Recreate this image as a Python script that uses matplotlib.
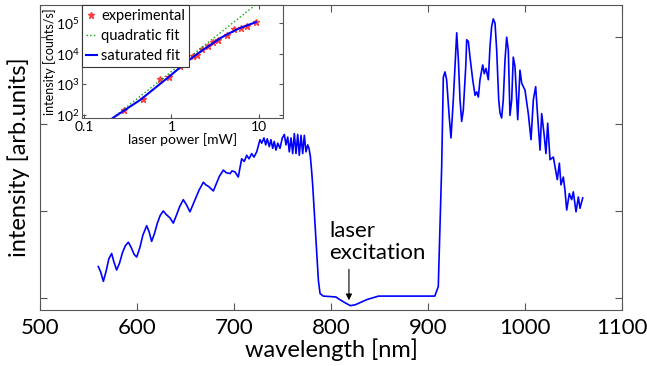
import matplotlib
matplotlib.use("Agg")
import matplotlib.pyplot as plt
from matplotlib.ticker import FixedLocator, NullLocator

plt.rcParams['font.family'] = ['Lato', 'DejaVu Sans']
plt.rcParams['mathtext.fontset'] = 'custom'
plt.rcParams['mathtext.rm'] = 'Lato'
plt.rcParams['mathtext.it'] = 'Lato:italic'

# spectrum
wavelength = [560.1, 562.5, 565.3, 568, 571, 573.9, 576, 579.0, 582, 585, 588, 591.1, 594, 597,
              599.7, 603, 606, 610.0, 612.5, 615.1, 618, 621, 624, 627.1, 630, 634, 637.4, 641,
              644, 647.7, 651, 654.6, 658, 661, 664, 668.4, 671, 674, 678.7, 682, 685, 689.0,
              692, 695.9, 698, 701.0, 704.4, 707.9, 710.6, 713.1, 715.5, 718.2, 720.6, 723.4,
              726.8, 728.6, 730.9, 732.7, 734.3, 736.4, 738.1, 739.9, 741.5, 743.3, 745.1, 747.4,
              749.8, 751.9, 753.6, 755.4, 757.0, 758.8, 760.5, 762.2, 763.9, 765.7, 767.3, 769.1,
              770.8, 772.5, 774.2, 776.0, 777.3, 778.7, 780.1, 781.1, 783.5, 785.3, 787.0, 788.7,
              792, 799, 805, 809, 815, 820, 825, 831, 837, 843, 849, 860, 871, 890, 907, 910.6,
              914.1, 915.8, 917.5, 919.2, 921.9, 923.7, 926.1, 927.8, 929.6, 931.3, 933.0, 934.7,
              936.4, 938.9, 939.9, 941.6, 943.3, 946.1, 948.5, 950.2, 951.9, 953.6, 956.4, 958.0,
              959.8, 962.2, 963.9, 965.6, 967.3, 969.1, 970.8, 972.9, 974.2, 975.9, 977.6, 979.4,
              981.1, 982.8, 984.5, 986.3, 987.9, 989.7, 992.5, 994.8, 996.6, 1000.0, 1003.4,
              1006.2, 1008.6, 1011.0, 1013.1, 1015.5, 1017.2, 1019.6, 1021.6, 1023.4, 1025.8,
              1029.2, 1030.9, 1033.3, 1035.4, 1037.1, 1039.5, 1041.2, 1043.0, 1045.7, 1048.1,
              1049.8, 1052.6, 1055.0, 1056.7, 1059.5]
intensity = [0.36, 0.30, 0.19, 0.30, 0.45, 0.51, 0.42, 0.32, 0.40, 0.52, 0.60, 0.64, 0.58, 0.50,
             0.47, 0.58, 0.72, 0.83, 0.76, 0.65, 0.74, 0.86, 0.95, 1.00, 0.96, 0.92, 0.86, 0.96,
             1.05, 1.13, 1.07, 0.99, 1.08, 1.16, 1.24, 1.33, 1.30, 1.28, 1.23, 1.32, 1.40, 1.47,
             1.44, 1.43, 1.46, 1.45, 1.39, 1.60, 1.57, 1.64, 1.60, 1.66, 1.62, 1.68,
             1.82, 1.78, 1.84, 1.76, 1.83, 1.74, 1.82, 1.72, 1.80, 1.70, 1.78, 1.72,
             1.84, 1.88, 1.76, 1.85, 1.68, 1.84, 1.66, 1.89, 1.66, 1.88, 1.64, 1.87,
             1.66, 1.87, 1.68, 1.76, 1.72, 1.63, 1.45, 1.30, 0.85, 0.51, 0.20, 0.05,
             0.02, 0.015, 0.01, -0.02, -0.06, -0.09, -0.08, -0.05, -0.02, 0.00, 0.02, 0.02, 0.02,
             0.02, 0.02, 0.13,
             1.51, 2.54, 2.60, 2.51, 2.08, 1.84, 2.28, 2.66, 3.05, 2.74, 2.28, 2.03,
             2.16, 2.66, 2.97, 2.95, 2.77, 2.51, 2.33, 2.37, 2.31, 2.51, 2.68, 2.58,
             2.64, 2.51, 2.89, 3.12, 3.21, 3.16, 2.85, 2.28, 2.13, 2.07, 2.28, 2.74,
             3.00, 2.85, 2.10, 2.28, 2.77, 2.66, 2.05, 2.62, 2.47, 2.39, 2.12,
             1.82, 2.28, 2.43, 2.08, 1.70, 2.12, 1.89, 1.66, 2.01, 1.59,
             1.62, 1.51, 1.36, 1.55, 1.30, 1.39, 1.24, 1.01, 1.20, 1.13,
             1.22, 0.99, 1.16, 1.03, 1.15]

# inset: power dependence
power = [0.29, 0.47, 0.74, 0.94, 1.25, 1.43, 1.76, 1.95, 2.23, 2.61, 2.98, 3.4, 4.3, 5.2, 6.2, 7.3, 9.2]
counts = [146, 330, 1480, 1730, 3960, 4910, 8300, 9000, 14100, 17700, 24000, 27600, 40300,
          63000, 68000, 79000, 107000]
quad_power = [0.214, 9.0]
quad_counts = [80, 3.8e5]
sat_power = [0.214, 0.44, 0.96, 1.5, 2.1, 3.6, 4.6, 6.0, 9.2]
sat_counts = [80, 310, 1870, 5500, 11200, 32000, 47000, 68000, 107000]

fig = plt.figure(figsize=(6.47, 3.66), dpi=100)
spine_col = '#555555'

ax = fig.add_axes([40 / 647, 56 / 366, 582 / 647, 305 / 366])
ax.plot(wavelength, intensity, color='#0000ff', lw=1.2)
ax.set_xlim(500, 1100)
ax.set_ylim(-0.14, 3.37)
ax.set_xticks([500, 600, 700, 800, 900, 1000, 1100])
ax.set_yticks([0, 1, 2, 3])
ax.set_yticklabels([])
ax.tick_params(direction='in', top=True, right=True, length=5, labelsize=16, pad=6,
               color=spine_col)
for s in ax.spines.values():
    s.set_color(spine_col)
    s.set_linewidth(0.8)
ax.set_xlabel('wavelength [nm]', fontsize=17, labelpad=0)
ax.set_ylabel('intensity [arb.units]', fontsize=17, labelpad=1)

ax.text(798, 0.40, 'laser\nexcitation', fontsize=16, ha='left', va='bottom', linespacing=1.1)
ax.annotate('', xy=(818.5, -0.06), xytext=(818.5, 0.36),
            arrowprops=dict(arrowstyle='-|>', color='black', lw=0.8, mutation_scale=9))

# inset
ins = fig.add_axes([82 / 647, 248 / 366, 201 / 647, 113 / 366])
ins.set_xscale('log')
ins.set_yscale('log')
ins.plot(power, counts, '*', color='#ff4040', ms=4.5, label='experimental')
ins.plot(quad_power, quad_counts, ':', color='#10a010', lw=1.0, label='quadratic fit')
ins.plot(sat_power, sat_counts, '-', color='#0000ff', lw=1.5, label='saturated fit')
ins.set_xlim(0.095, 18.8)
ins.set_ylim(10 ** 1.9, 10 ** 5.59)
ins.xaxis.set_major_locator(FixedLocator([0.1, 1, 10]))
ins.set_xticklabels(['0.1', '1', '10'])
ins.xaxis.set_minor_locator(NullLocator())
ins.yaxis.set_major_locator(FixedLocator([1e2, 1e3, 1e4, 1e5]))
ins.yaxis.set_minor_locator(NullLocator())
ins.tick_params(direction='in', top=True, right=True, length=3, labelsize=10, pad=2,
                color=spine_col)
for s in ins.spines.values():
    s.set_color(spine_col)
    s.set_linewidth(0.8)
ins.set_xlabel('laser power [mW]', fontsize=10, labelpad=0)
ins.set_ylabel('intensity [counts/s]', fontsize=9, labelpad=0)
leg = ins.legend(loc='upper left', fontsize=10.5, borderaxespad=0, handlelength=0.7,
                 handletextpad=0.3, labelspacing=0.4, borderpad=0.3, fancybox=False,
                 framealpha=1, edgecolor='#333333')
leg.get_frame().set_linewidth(0.8)

fig.savefig('out.png', dpi=100)
